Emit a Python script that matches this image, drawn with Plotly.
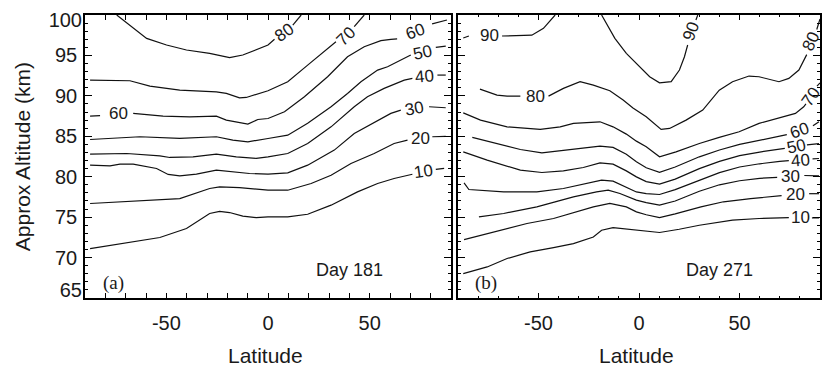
import plotly.graph_objects as go

# ---- Day 181: contour lines as (latitude, altitude km) vertices; None = gap for the inline label
d181_c80 = [(-74.4, 100), (-67.9, 98.76), (-59.7, 97.11), (-49.9, 96.29), (-40.1, 95.67), (-28.7, 95.26),
            (-18.9, 94.72), (-12.4, 95.05), (-5.8, 95.67), (0, 96.29), (3.2, 97.0), None, (12.2, 98.76), (16.3, 100)]
d181_c70 = [(-87.5, 91.95), (-67.9, 91.87), (-58.1, 91.21), (-43.4, 90.71), (-25.4, 90.5), (-20.5, 90.3),
            (-14, 89.76), (-10.7, 89.8), (0, 90.63), (9.7, 91.75), (19.5, 93.8), (29.3, 95.9), (33.4, 96.7),
            None, (42.4, 98.55), (47.3, 100)]
d181_c60 = [(-87.5, 87.5), (-82.6, 87.55), None, (-66.3, 87.83), (-51.6, 87.5), (-38.5, 87.41), (-25.4, 87.5),
            (-20.5, 87.0), (-9.9, 86.5), (-5, 87.08), (0, 87.2), (8.1, 88.03), (17.9, 89.9), (29.3, 92.36),
            (39.1, 94.84), (47.3, 96.08), (55.5, 96.82), (60.4, 96.99), (63.5, 97.05), None, (80.7, 98.9), (88, 99.38)]
d181_c50 = [(-87.5, 84.6), (-76.1, 84.8), (-63, 84.94), (-43.4, 84.73), (-25.4, 84.94), (-17.3, 84.52),
            (-9.9, 84.32), (0, 84.73), (9.7, 85.14), (19.5, 86.6), (31, 88.65), (39.1, 90.3), (45.7, 91.75),
            (53.9, 93.19), (58.8, 93.6), (70.2, 95.05), None, (82.5, 96.0), (87.4, 96.16)]
d181_c40 = [(-87.5, 82.79), (-69.5, 82.87), (-53.2, 82.58), (-48.3, 82.38), (-36.9, 82.46), (-25.4, 82.79),
            (-15.6, 82.46), (-5.8, 82.26), (0, 82.46), (9.7, 82.87), (19.5, 84.11), (31, 86.17), (42.4, 88.65),
            (48.9, 89.9), (57.1, 90.93), (67, 91.95), (71, 92.16), None, (83.3, 92.57), (87.4, 92.57)]
d181_c30 = [(-87.5, 81.43), (-77.7, 81.35), (-72.8, 81.55), (-66.3, 81.55), (-54.8, 81.02), (-49.1, 80.28),
            (-43.4, 80.1), (-35.2, 80.31), (-25.4, 80.81), (-17.3, 80.6), (-9.1, 80.4), (0, 80.31), (9.7, 80.48),
            (19.5, 81.43), (32.6, 83.29), (42.4, 85.35), (53.9, 87.0), (60.4, 87.83), (65.3, 88.24), None,
            (79.2, 88.65), (87.4, 88.53)]
d181_c20 = [(-87.5, 76.69), (-63, 77.01), (-43.4, 77.3), (-28.7, 78.54), (-23.8, 78.74), (-14, 78.66), (0, 78.33),
            (9.7, 78.33), (21.2, 79.16), (31, 80.19), (40.8, 81.64), (52.2, 82.87), (62, 84.11), (68.6, 84.52),
            None, (80.8, 84.94), (87.4, 85.0)]
d181_c10 = [(-87.5, 71.11), (-67.9, 71.93), (-53.2, 72.48), (-40.1, 73.59), (-33.6, 74.62), (-28.7, 75.45),
            (-23.8, 75.7), (-18.9, 75.57), (-12.4, 75.12), (-5.8, 74.95), (0, 75.03), (9.7, 75.03), (19.5, 75.36),
            (31, 76.48), (44, 78.12), (53.9, 79.16), (62, 79.78), (71, 80.31), None, (82.5, 80.9), (86.6, 81.02)]
d181_lines = [d181_c80, d181_c70, d181_c60, d181_c50, d181_c40, d181_c30, d181_c20, d181_c10]
# (text, latitude, altitude, rotation)
d181_labels = [("80", 8.1, 97.8, -35), ("70", 38.4, 97.3, -45), ("60", -73.7, 87.85, 0), ("60", 72.5, 97.9, -20),
               ("50", 76.2, 95.4, -12), ("40", 77.0, 92.4, -5), ("30", 72.2, 88.4, -10), ("20", 74.8, 84.75, 0),
               ("10", 76.7, 80.6, -8)]

# ---- Day 271
d271_c90w = [(-87.4, 97.15), (-84.6, 97.4), None, (-68.1, 97.4), (-53.3, 97.5), (-47.5, 98.35), (-42.5, 99.8),
             (-41.7, 100)]
d271_c90e = [(-18.6, 100), (-12, 97.11), (-6.3, 95.26), (-3, 94.43), (-0.5, 93.81), (5.3, 92.36), (10.2, 91.62),
             (16, 91.75), (20.1, 93.19), (22.6, 94.84), (24.2, 96.29), None, (28.3, 99.38), (29.2, 100)]
d271_c80 = [(-79.1, 90.84), (-70.6, 90.1), (-65.6, 89.97), (-59, 89.97), None, (-45, 89.97), (-37.6, 90.92),
            (-29.3, 91.75), (-22.7, 91.33), (-14.5, 90.63), (-7.9, 89.48), (-3, 88.5), (3.6, 87.41), (11, 85.85),
            (15.2, 85.97), (23.4, 87.0), (31.7, 88.24), (39.9, 90.71), (46.5, 91.75), (54.7, 92.45), (59.7, 92.36),
            (69.6, 91.75), (74.5, 92.16), (79.5, 93.19), (82.2, 94.43), (83.4, 95.1), None, (88.4, 98.2),
            (90, 99.5)]
d271_c70 = [(-87.4, 87.9), (-78.8, 87.0), (-65.6, 86.17), (-49.1, 85.85), (-39.2, 86.17), (-32.6, 86.59),
            (-19.4, 86.79), (-12.9, 86.17), (-6.3, 85.27), (-1.3, 84.4), (3.6, 83.7), (10.2, 82.46), (18.4, 83.08),
            (30, 84.11), (39.9, 84.86), (49.8, 85.56), (59.7, 86.6), (69.6, 87.3), (77.8, 87.83), (81.9, 88.65),
            (83, 89.0), None, (88.5, 91.2), (90, 91.6)]
d271_c60 = [(-82.9, 84.86), (-70.6, 84.11), (-59, 83.37), (-48.3, 82.95), (-37.6, 83.29), (-29.3, 83.5),
            (-19.4, 83.78), (-12.9, 83.62), (-6.3, 82.79), (-1.3, 81.84), (3.6, 81.1), (10.2, 80.53), (18, 81.2),
            (30, 82.46), (40, 83.3), (50, 84.0), (60, 84.5), (70, 84.95), (73.5, 85.2), None, (86.5, 86.3),
            (89.5, 86.8)]
d271_c50 = [(-87.4, 83.08), (-75.5, 82.05), (-59, 80.81), (-48.3, 80.52), (-37.6, 80.72), (-27.7, 81.14),
            (-19.4, 81.71), (-12.9, 81.55), (-6.3, 80.72), (-1.3, 79.98), (3.6, 79.4), (10.2, 79.08), (18, 79.7),
            (30, 81.0), (40, 81.9), (50, 82.6), (60, 83.05), (70, 83.4), (72.5, 83.5), None, (83.5, 83.95),
            (89.5, 84.1)]
d271_c40 = [(-87.0, 79.24), (-84.6, 78.42), (-67.3, 78.12), (-50.8, 78.12), (-37.6, 78.54), (-26.1, 79.16),
            (-18.6, 79.57), (-12.9, 79.45), (-6.3, 78.74), (-1.3, 78.12), (3.6, 77.9), (10.2, 77.8), (18, 78.4),
            (30, 79.6), (40, 80.5), (50, 81.2), (60, 81.6), (70, 81.9), (74.5, 82.0), None, (86.3, 82.2),
            (89.5, 82.25)]
d271_c30 = [(-79.6, 75.03), (-67.3, 75.45), (-50.8, 76.27), (-32.6, 77.5), (-21.1, 78.12), (-15.3, 78.33),
            (-9.5, 77.92), (-1.3, 77.1), (3.6, 76.8), (10.2, 76.48), (18, 77.0), (30, 78.2), (40, 79.0), (50, 79.5),
            (60, 79.8), (68.7, 79.93), None, (82.2, 80.15), (89.5, 80.1)]
d271_c20 = [(-87, 72.22), (-72.2, 73.17), (-55.7, 74.21), (-42.5, 74.83), (-31, 75.65), (-22.7, 76.27),
            (-14.5, 76.69), (-6.3, 76.27), (-1.3, 75.65), (3.6, 75.3), (10.2, 74.95), (18, 75.4), (30.8, 76.27),
            (42, 76.9), (55.5, 77.3), (65, 77.55), (70.9, 77.65), None, (84.6, 77.9), (89.5, 77.9)]
d271_c10 = [(-87.4, 68.02), (-75.5, 68.84), (-65.6, 69.88), (-54.1, 70.7), (-42.5, 71.24), (-32.6, 71.73),
            (-22.7, 72.55), (-18.6, 73.38), (-12.9, 73.71), (-7.9, 73.59), (-1.3, 73.38), (10.2, 73.1), (20, 73.5),
            (30, 74.0), (46.5, 74.62), (59.7, 74.83), (74.5, 74.95), None, (86, 74.92), (89.5, 74.9)]
d271_lines = [d271_c90w, d271_c90e, d271_c80, d271_c70, d271_c60, d271_c50, d271_c40, d271_c30, d271_c20, d271_c10]
d271_labels = [("90", -74.2, 97.5, 0), ("90", 25.9, 97.94, -70), ("80", -51.6, 89.97, 0), ("80", 85.6, 96.7, -65),
               ("70", 85.5, 89.97, -55), ("60", 79.8, 85.76, -20), ("50", 78.3, 83.7, -12), ("40", 80.5, 82.05, -5),
               ("30", 75.5, 80.0, 0), ("20", 77.8, 77.85, 0), ("10", 80.3, 74.95, 0)]

panels = [("x", "y", d181_lines, d181_labels, "Day 181", "(a)"),
          ("x2", "y2", d271_lines, d271_labels, "Day 271", "(b)")]

lat_ticks = [-50, 0, 50]
lat_ticktext = ["-50", "0", "50"]
alt_ticks = [65, 70, 75, 80, 85, 90, 95, 100]
alt_ticktext = ["", "70", "75", "80", "85", "90", "95", ""]   # end labels are drawn nudged inward

SANS = "Liberation Sans, Arial, Helvetica, sans-serif"
SERIF = "Liberation Serif, Times New Roman, serif"
INK = "#1a1a1a"

fig = go.Figure()
annotations = []
for xa, ya, lines, labels, day, tag in panels:
    for pts in lines:
        fig.add_trace(go.Scatter(
            x=[p[0] if p else None for p in pts],
            y=[p[1] if p else None for p in pts],
            mode="lines", xaxis=xa, yaxis=ya, showlegend=False, hoverinfo="skip",
            line=dict(color="#111111", width=1.2)))
    for text, lat, alt, ang in labels:
        annotations.append(dict(x=lat, y=alt, xref=xa, yref=ya, text=text, showarrow=False,
                                textangle=ang, font=dict(family=SANS, size=17, color=INK)))
    annotations.append(dict(x=40, y=68.5, xref=xa, yref=ya, text=day, showarrow=False,
                            font=dict(family=SANS, size=18, color=INK)))
    annotations.append(dict(x=-76, y=66.8, xref=xa, yref=ya, text=tag, showarrow=False,
                            font=dict(family=SERIF, size=19, color=INK)))
    annotations.append(dict(x=-1, y=-0.203, xref=xa, yref="paper", text="Latitude", showarrow=False,
                            yanchor="middle", font=dict(family=SANS, size=21, color=INK)))

annotations.append(dict(x=-0.0848, y=0.5, xref="paper", yref="paper", text="Approx Altitude (km)",
                        textangle=-90, showarrow=False, xanchor="center", yanchor="middle",
                        font=dict(family=SANS, size=21, color=INK)))

# empty traces so the label-only overlay axes get a subplot
for ya in ("y3", "y4"):
    fig.add_trace(go.Scatter(x=[], y=[], xaxis="x", yaxis=ya, showlegend=False, hoverinfo="skip"))

tickfont = dict(family=SANS, size=20, color=INK)
common_x = dict(range=[-90, 90], tickmode="array", tickvals=lat_ticks, ticktext=lat_ticktext, ticks="inside",
                ticklen=5, tickwidth=1.2, tickcolor="black", showline=True, linewidth=1.5, linecolor="black",
                mirror="allticks", showgrid=False, zeroline=False,
                minor=dict(dtick=10, tick0=0, ticks="inside", ticklen=2.5, tickwidth=1, tickcolor="black"),
                tickfont=tickfont, ticklabelstandoff=6)
common_y = dict(range=[65, 100], tickmode="array", tickvals=alt_ticks, ticks="inside", ticklen=7,
                tickwidth=1.2, tickcolor="black", showline=True, linewidth=1.5, linecolor="black",
                mirror="allticks", showgrid=False, zeroline=False,
                minor=dict(dtick=1, tick0=65, ticks="inside", ticklen=3.5, tickwidth=1, tickcolor="black"),
                tickfont=tickfont, ticklabelstandoff=2)
# label-only overlay axes for the bottom and top altitude labels
end_y = dict(range=[65, 100], overlaying="y", anchor="x", side="left", tickmode="array", ticks="",
             showline=False, showgrid=False, zeroline=False, tickfont=tickfont, ticklabelstandoff=2)

fig.update_layout(
    width=823, height=368,
    margin=dict(l=85, r=1, t=15, b=70),
    paper_bgcolor="white", plot_bgcolor="white",
    xaxis=dict(domain=[0, 0.498], anchor="y", **common_x),
    yaxis=dict(domain=[0, 1], anchor="x", ticktext=alt_ticktext, **common_y),
    xaxis2=dict(domain=[0.5075, 1], anchor="y2", **common_x),
    yaxis2=dict(domain=[0, 1], anchor="x2", showticklabels=False, **common_y),
    yaxis3=dict(tickvals=[alt_ticks[0]], ticktext=[str(alt_ticks[0])], ticklabelshift=-8, **end_y),
    yaxis4=dict(tickvals=[alt_ticks[-1]], ticktext=[str(alt_ticks[-1])], ticklabelshift=5, **end_y),
    annotations=annotations,
)

fig.write_html("out.html")
